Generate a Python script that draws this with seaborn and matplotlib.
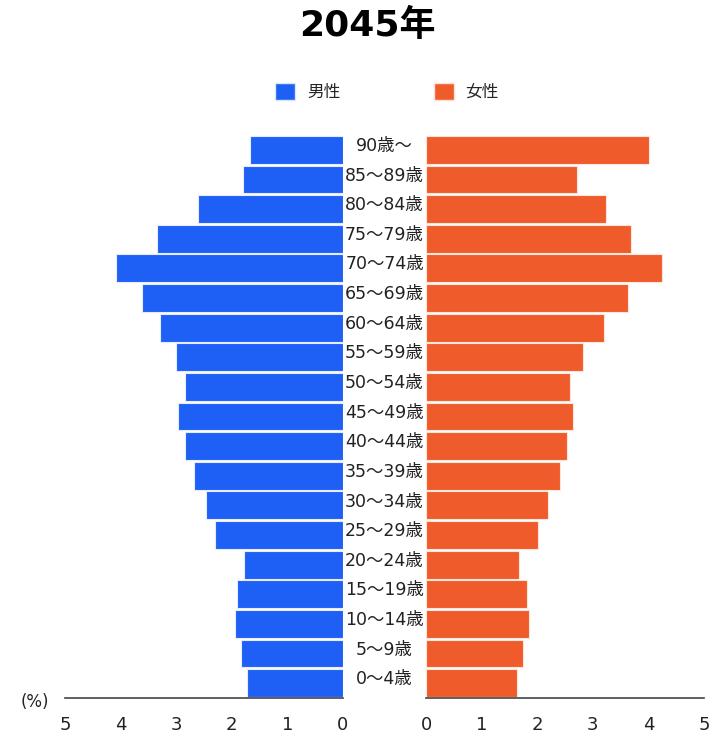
import matplotlib
matplotlib.use('Agg')
import matplotlib.pyplot as plt
from matplotlib.patches import Patch
import matplotlib.transforms as mtransforms
import seaborn as sns
import pandas as pd

sns.set_style('white')
plt.rcParams['font.family'] = ['DejaVu Sans', 'Noto Sans CJK JP']

# 年齢階級 (上から)
ages = ['90歳～', '85～89歳', '80～84歳', '75～79歳', '70～74歳', '65～69歳',
        '60～64歳', '55～59歳', '50～54歳', '45～49歳', '40～44歳', '35～39歳',
        '30～34歳', '25～29歳', '20～24歳', '15～19歳', '10～14歳', '5～9歳', '0～4歳']
# 男性 (%)
male = [1.67, 1.80, 2.61, 3.35, 4.09, 3.62, 3.30, 3.01, 2.84, 2.97,
        2.84, 2.68, 2.47, 2.30, 1.78, 1.90, 1.94, 1.83, 1.72]
# 女性 (%)
female = [4.01, 2.72, 3.24, 3.69, 4.25, 3.63, 3.20, 2.82, 2.59, 2.65,
          2.54, 2.41, 2.20, 2.02, 1.68, 1.81, 1.85, 1.75, 1.64]
ticks = [0, 1, 2, 3, 4, 5]

blue = '#1e5ff6'
orange = '#ef5b2b'

df = pd.DataFrame({'age': ages, 'male': male, 'female': female})

fig = plt.figure(figsize=(7.14, 7.33), dpi=100)
ax_l = fig.add_axes([65/714, 1-698/733, 278/714, 563/733])
ax_r = fig.add_axes([426/714, 1-698/733, 278/714, 563/733])

sns.barplot(data=df, x='male', y='age', order=ages, color=blue, ax=ax_l,
            width=0.94, edgecolor='#e6ecff', linewidth=0.8, saturation=1)
sns.barplot(data=df, x='female', y='age', order=ages, color=orange, ax=ax_r,
            width=0.94, edgecolor='#ffe6dc', linewidth=0.8, saturation=1)

for ax in (ax_l, ax_r):
    ax.set_ylim(len(ages) - 0.5, -0.5)
    ax.set_xticks(ticks)
    ax.set_xticklabels([str(t) for t in ticks], fontsize=13, color='#222222')
    ax.set_xlabel('')
    ax.set_ylabel('')
    ax.set_yticks([])
    for s in ['top', 'left', 'right']:
        ax.spines[s].set_visible(False)
    ax.spines['bottom'].set_color('#444444')
    ax.spines['bottom'].set_linewidth(1.2)
    ax.tick_params(axis='x', direction='out', length=6, width=1.2, color='#444444', pad=7)

ax_l.set_xlim(5, 0)
ax_r.set_xlim(0, 5)

# 年齢ラベルは中央
trans = mtransforms.blended_transform_factory(ax_l.transAxes, ax_l.transData)
for i, lab in enumerate(ages):
    ax_l.text(1 + 41.5/278, i - 0.13, lab, transform=trans, ha='center', va='center',
              fontsize=12.5, color='#222222')

fig.text(35/714, 1-702/733, '(%)', ha='center', va='center', fontsize=12, color='#222222')
fig.text(0.5 + 10/714, 1-26/733, '2045年', ha='center', va='center', fontsize=26,
         fontweight='bold', color='black')

handles = [Patch(facecolor=blue, edgecolor='#dde6ff', label='男性'),
           Patch(facecolor=orange, edgecolor='#ffe0d4', label='女性')]
fig.legend(handles=handles, loc='center', bbox_to_anchor=(0.5 + 30/714, 1-92/733), ncol=2,
           frameon=False, fontsize=12, handlelength=1.2, handleheight=1.2,
           handletextpad=0.7, columnspacing=5.6)

fig.savefig('out.png', dpi=100)
